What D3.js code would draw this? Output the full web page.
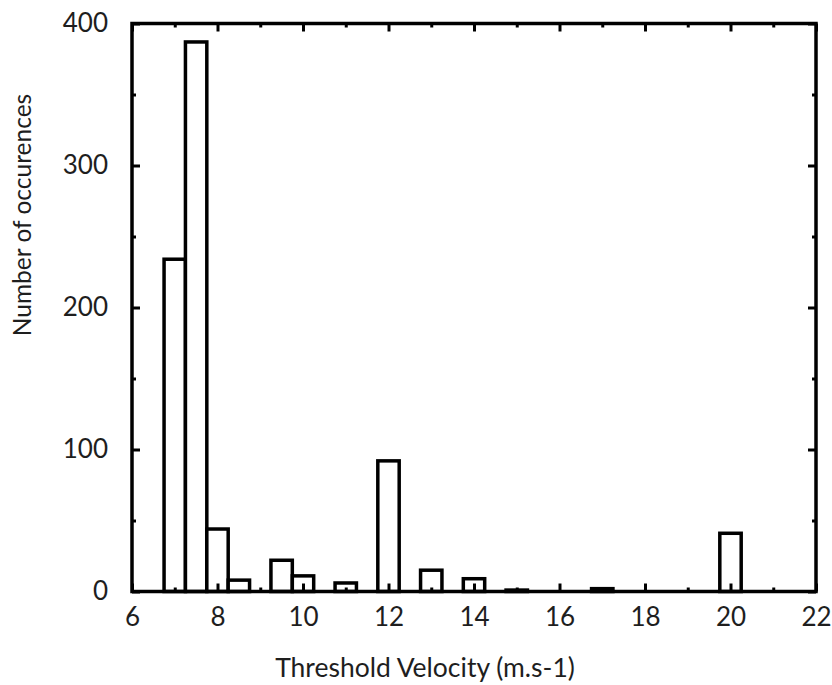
<!DOCTYPE html>
<html>
<head>
<meta charset="utf-8">
<script src="https://cdn.jsdelivr.net/npm/d3@7"></script>
<style>
  body { margin: 0; background: #fff; }
  text { font-family: Lato, "Open Sans", sans-serif; fill: #1e1e1e; }
</style>
</head>
<body>
<div id="chart"></div>
<script>
// bin centres (m.s-1) and counts, bins are 0.5 wide
const binCenters = [7, 7.5, 8, 8.5, 9.5, 10, 11, 12, 13, 14, 15, 17, 20];
const counts = [234, 387, 44, 8, 22, 11, 6, 92, 15, 9, 1, 2, 41];
const binWidth = 0.5;

const xMajorTicks = [6, 8, 10, 12, 14, 16, 18, 20, 22];
const xMinorTicks = [7, 9, 11, 13, 15, 17, 19, 21];
const yMajorTicks = [0, 100, 200, 300, 400];
const yMinorTicks = [50, 150, 250, 350];

const xTitle = "Threshold Velocity (m.s-1)";
const yTitle = "Number of occurences";

const width = 832, height = 685;
const plot = { left: 132, right: 816, top: 23.5, bottom: 591.5 };
const fontSize = "26px";

const svg = d3.select("#chart").append("svg")
  .attr("width", width)
  .attr("height", height);

const x = d3.scaleLinear().domain([6, 22]).range([plot.left, plot.right]);
const y = d3.scaleLinear().domain([0, 400]).range([plot.bottom, plot.top]);

const data = binCenters.map((c, i) => ({ c, n: counts[i] }));

// bars
svg.append("g")
  .selectAll("rect")
  .data(data)
  .join("rect")
  .attr("x", d => x(d.c - binWidth / 2))
  .attr("width", d => x(d.c + binWidth / 2) - x(d.c - binWidth / 2))
  .attr("y", d => y(d.n))
  .attr("height", d => y(0) - y(d.n))
  .attr("fill", "#fff")
  .attr("stroke", "#000")
  .attr("stroke-width", 3.5);

// ticks, all pointing inward on four sides
const MAJ = 8, MIN = 4;

function styleTicks(g) {
  g.select(".domain").remove();
  g.selectAll(".tick line").attr("stroke", "#000").attr("stroke-width", 3);
  g.selectAll(".tick text").style("font-size", fontSize).attr("fill", "#1e1e1e");
}

svg.append("g")
  .attr("transform", `translate(0,${plot.bottom})`)
  .call(d3.axisBottom(x).tickValues(xMajorTicks).tickSize(-MAJ).tickPadding(16).tickFormat(d3.format("d")))
  .call(styleTicks);
svg.append("g")
  .attr("transform", `translate(0,${plot.bottom})`)
  .call(d3.axisBottom(x).tickValues(xMinorTicks).tickSize(-MIN).tickFormat(""))
  .call(styleTicks);
svg.append("g")
  .attr("transform", `translate(0,${plot.top})`)
  .call(d3.axisTop(x).tickValues(xMajorTicks).tickSize(-MAJ).tickFormat(""))
  .call(styleTicks);
svg.append("g")
  .attr("transform", `translate(0,${plot.top})`)
  .call(d3.axisTop(x).tickValues(xMinorTicks).tickSize(-MIN).tickFormat(""))
  .call(styleTicks);

svg.append("g")
  .attr("transform", `translate(${plot.left},0)`)
  .call(d3.axisLeft(y).tickValues(yMajorTicks).tickSize(-MAJ).tickPadding(24).tickFormat(d3.format("d")))
  .call(styleTicks);
svg.append("g")
  .attr("transform", `translate(${plot.left},0)`)
  .call(d3.axisLeft(y).tickValues(yMinorTicks).tickSize(-MIN).tickFormat(""))
  .call(styleTicks);
svg.append("g")
  .attr("transform", `translate(${plot.right},0)`)
  .call(d3.axisRight(y).tickValues(yMajorTicks).tickSize(-MAJ).tickFormat(""))
  .call(styleTicks);
svg.append("g")
  .attr("transform", `translate(${plot.right},0)`)
  .call(d3.axisRight(y).tickValues(yMinorTicks).tickSize(-MIN).tickFormat(""))
  .call(styleTicks);

// frame
svg.append("rect")
  .attr("x", plot.left)
  .attr("y", plot.top)
  .attr("width", plot.right - plot.left)
  .attr("height", plot.bottom - plot.top)
  .attr("fill", "none")
  .attr("stroke", "#000")
  .attr("stroke-width", 3.5);

// axis titles
svg.append("text")
  .attr("x", 425)
  .attr("y", 677)
  .attr("text-anchor", "middle")
  .style("font-size", "26.5px")
  .text(xTitle);

svg.append("text")
  .attr("transform", "translate(31,215) rotate(-90)")
  .attr("text-anchor", "middle")
  .style("font-size", "24.5px")
  .text(yTitle);
</script>
</body>
</html>
